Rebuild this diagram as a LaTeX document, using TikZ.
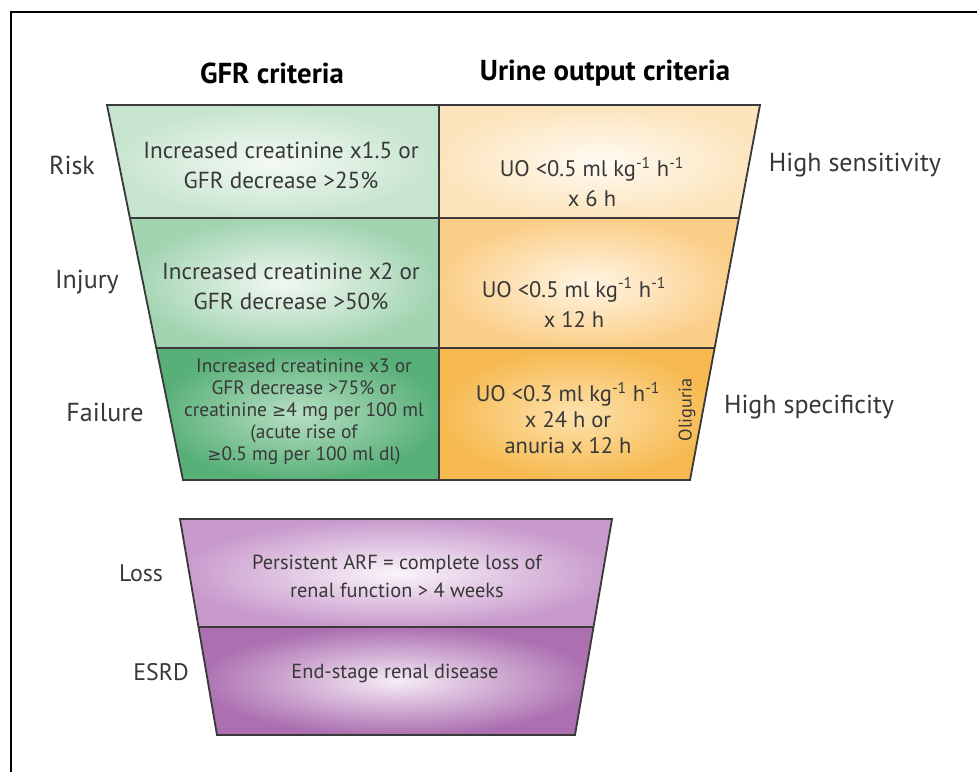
\documentclass[tikz,border=0pt]{standalone}
\usepackage{fontspec}
\setmainfont{PT Sans}
\newfontfamily\symfont{DejaVu Sans}
\usetikzlibrary{calc}

\definecolor{linegray}{HTML}{3A3A3A}
\definecolor{textgray}{HTML}{383838}
% green column (GFR criteria)
\definecolor{gRiskOut}{HTML}{C6E4CE}
\definecolor{gRiskIn}{HTML}{F4FAF5}
\definecolor{gInjOut}{HTML}{A2D4B1}
\definecolor{gInjIn}{HTML}{F1F8F2}
\definecolor{gFailOut}{HTML}{58B078}
\definecolor{gFailIn}{HTML}{B8DFC3}
% orange column (urine output criteria)
\definecolor{oRiskOut}{HTML}{FCE4BC}
\definecolor{oRiskIn}{HTML}{FFFBF3}
\definecolor{oInjOut}{HTML}{FBCE88}
\definecolor{oInjIn}{HTML}{FFF5E3}
\definecolor{oFailOut}{HTML}{F6B94F}
\definecolor{oFailIn}{HTML}{FDE2AE}
% purple outcome stages
\definecolor{pLossOut}{HTML}{C89ACC}
\definecolor{pLossIn}{HTML}{FAF4FA}
\definecolor{pEsrdOut}{HTML}{AC70B1}
\definecolor{pEsrdIn}{HTML}{F6ECF6}

\newcommand{\geqsym}{{\symfont\fontsize{12}{14}\selectfont ≥}}
\newcommand{\inv}{\textsuperscript{-1}}

\begin{document}
\begin{tikzpicture}[x=0.025cm,y=-0.025cm,
  cellline/.style={draw=linegray, line width=1.3pt, line join=miter},
  framestyle/.style={draw=black, line width=1.5pt},
  lbl/.style={font=\fontsize{18.5}{22}\selectfont, text=textgray, inner sep=0pt},
  lowlbl/.style={font=\fontsize{17}{20}\selectfont, text=textgray, inner sep=0pt},
  hdr/.style={font=\fontsize{20.5}{24}\selectfont\bfseries, text=black, inner sep=0pt},
  body/.style={font=\fontsize{16.5}{21.3}\selectfont, text=textgray, align=center, inner sep=0pt},
  uobody/.style={font=\fontsize{16}{21.3}\selectfont, text=textgray, align=center, inner sep=0pt},
  lowbody/.style={font=\fontsize{14.5}{20}\selectfont, text=textgray, align=center, inner sep=0pt},
  smallbody/.style={font=\fontsize{13.8}{15.6}\selectfont, text=textgray, align=center, inner sep=0pt},
  sidenote/.style={font=\fontsize{13}{14}\selectfont, text=textgray, inner sep=0pt}]

\useasboundingbox (0,0) rectangle (977,772);
\fill[white] (0,0) rectangle (977,772);

% outer frame (only top and left edges are visible)
\coordinate (fTL) at (11,12);
\coordinate (fTR) at (977,12);
\coordinate (fBL) at (11,772);
\draw[framestyle] (fTR) -- (fTL) -- (fBL);

% ---------- upper funnel: RIFLE criteria ----------
\coordinate (TL) at (107,105);
\coordinate (TM) at (439,105);
\coordinate (TR) at (760,105);
\coordinate (L1) at (129.9,218);
\coordinate (M1) at (439,218);
\coordinate (R1) at (738.9,218);
\coordinate (L2) at (156.2,348);
\coordinate (M2) at (439,348);
\coordinate (R2) at (714.6,348);
\coordinate (BL) at (183,480);
\coordinate (BM) at (439,480);
\coordinate (BR) at (690,480);

\shade[inner color=gRiskIn, outer color=gRiskOut] (TL) -- (TM) -- (M1) -- (L1) -- cycle;
\shade[inner color=gInjIn, outer color=gInjOut] (L1) -- (M1) -- (M2) -- (L2) -- cycle;
\shade[inner color=gFailIn, outer color=gFailOut] (L2) -- (M2) -- (BM) -- (BL) -- cycle;
\shade[inner color=oRiskIn, outer color=oRiskOut] (TM) -- (TR) -- (R1) -- (M1) -- cycle;
\shade[inner color=oInjIn, outer color=oInjOut] (M1) -- (R1) -- (R2) -- (M2) -- cycle;
\shade[inner color=oFailIn, outer color=oFailOut] (M2) -- (R2) -- (BR) -- (BM) -- cycle;

\draw[cellline] (TL) -- (TR) -- (BR) -- (BL) -- cycle;
\draw[cellline] (TM) -- (BM);
\draw[cellline] (L1) -- (R1);
\draw[cellline] (L2) -- (R2);

% ---------- lower funnel: outcome stages ----------
\coordinate (XTL) at (180,519);
\coordinate (XTR) at (612,519);
\coordinate (XML) at (198.5,627);
\coordinate (XMR) at (593.5,627);
\coordinate (XBL) at (217,735);
\coordinate (XBR) at (575,735);

\shade[inner color=pLossIn, outer color=pLossOut] (XTL) -- (XTR) -- (XMR) -- (XML) -- cycle;
\shade[inner color=pEsrdIn, outer color=pEsrdOut] (XML) -- (XMR) -- (XBR) -- (XBL) -- cycle;
\draw[cellline] (XTL) -- (XTR) -- (XBR) -- (XBL) -- cycle;
\draw[cellline] (XML) -- (XMR);

% ---------- column headers ----------
\node[hdr] (hgfr) at (272,73) {GFR criteria};
\node[hdr] (huo) at (605,73) {Urine output criteria};

% ---------- stage labels ----------
\node[lbl] (risk) at (72,165) {Risk};
\node[lbl] (injury) at (87,282) {Injury};
\node[lbl] (failure) at (105,412) {Failure};
\node[lowlbl] (loss) at (141,573) {Loss};
\node[lowlbl] (esrd) at (161,672) {ESRD};
\node[lbl] (sens) at (855,165) {High sensitivity};
\node[lbl] (spec) at (809,407) {High specificity};

% ---------- cell texts ----------
\node[body] (riskgfr) at (281,165) {Increased creatinine x1.5 or\\GFR decrease >25\%};
\node[uobody] (riskuo) at (592,182) {UO <0.5 ml kg\inv\ h\inv\\x 6 h};
\node[body] (injgfr) at (291,286) {Increased creatinine x2 or\\GFR decrease >50\%};
\node[uobody] (injuo) at (574,302) {UO <0.5 ml kg\inv\ h\inv\\x 12 h};
\node[smallbody] (failgfr) at (304,412) {Increased creatinine x3 or\\GFR decrease >75\% or\\creatinine \geqsym4 mg per 100 ml\\(acute rise of\\\geqsym0.5 mg per 100 ml dl)};
\node[uobody, font=\fontsize{16}{18.5}\selectfont] (failuo) at (568,418) {UO <0.3 ml kg\inv\ h\inv\\x 24 h or\\anuria x 12 h};
\node[sidenote, rotate=90] (olig) at (687,410) {Oliguria};
\node[lowbody] (losstxt) at (397,576) {Persistent ARF = complete loss of\\renal function > 4 weeks};
\node[lowbody] (esrdtxt) at (395,673) {End-stage renal disease};

\end{tikzpicture}
\end{document}
